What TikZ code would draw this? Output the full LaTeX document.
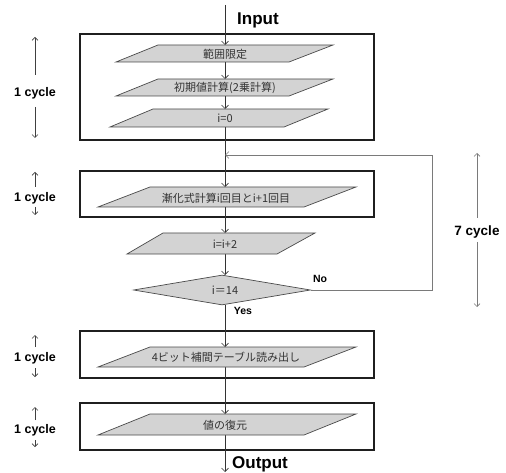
\documentclass[tikz,border=0pt]{standalone}
\usepackage{fontspec}
\setmainfont{Liberation Sans}
\newfontfamily\cjk{Noto Sans CJK JP}
\usetikzlibrary{arrows.meta,shapes.geometric}
\definecolor{paraFill}{HTML}{D3D3D3}
\definecolor{paraLine}{HTML}{4A4A4A}
\definecolor{txtGray}{HTML}{333333}
\definecolor{fbGray}{HTML}{7A7A7A}
\tikzset{
  cyclebox/.style={draw=black!88, line width=2.6pt, fill=white},
  parabox/.style={draw=paraLine, line width=0.7pt, fill=paraFill},
  ptext/.style={font=\cjk\fontsize{11}{13}\selectfont, text=txtGray, inner sep=0pt},
  flow/.style={draw=black!80, line width=0.7pt},
  tip/.style={-{Straight Barb[length=3.5pt,width=7pt,line width=0.6pt]}},
  fb/.style={draw=fbGray, line width=0.9pt},
  bigl/.style={font=\bfseries\fontsize{17}{19}\selectfont, inner sep=0pt},
  cyc/.style={font=\bfseries\fontsize{12.5}{14}\selectfont, inner sep=0pt},
  yn/.style={font=\bfseries\fontsize{10.5}{12}\selectfont, inner sep=0pt},
  dec/.style={shape=diamond, draw=paraLine, line width=0.7pt, fill=paraFill, minimum width=177pt, minimum height=30pt, inner sep=0pt},
  cycarr/.style={draw=black!75, line width=0.6pt, -{Straight Barb[length=3pt,width=6pt,line width=0.6pt]}}
}
\begin{document}
\begin{tikzpicture}[x=1pt,y=-1pt]
\useasboundingbox (0,0) rectangle (506,473);
% cycle boxes
\draw[cyclebox] (80,34) rectangle (374,140);
\draw[cyclebox] (80,171) rectangle (374,217);
\draw[cyclebox] (80,331) rectangle (374,378);
\draw[cyclebox] (80,403) rectangle (374,450);
% coordinates on the main line
\coordinate (in) at (225,5);
\coordinate (p1t) at (225,45);
\coordinate (p2t) at (225,79);
\coordinate (p3t) at (225,109);
\coordinate (p4t) at (225,187);
\coordinate (p5t) at (225,233);
\coordinate (dt) at (225,275);
\coordinate (db) at (225,305);
\coordinate (p6t) at (225,347);
\coordinate (p7t) at (225,414);
\coordinate (out) at (225,472);
\coordinate (join) at (225,155);
\coordinate (fbr) at (432,290);
\coordinate (fbt) at (432,155);
% main flow (behind the shapes)
\draw[flow,tip] (in) -- (p1t);
\draw[flow,tip] (p1t) -- (p2t);
\draw[flow,tip] (p2t) -- (p3t);
\draw[flow,tip] (p3t) -- (p4t);
\draw[flow,tip] (p4t) -- (p5t);
\draw[flow,tip] (p5t) -- (dt);
\draw[flow,tip] (db) -- (p6t);
\draw[flow,tip] (p6t) -- (p7t);
\draw[flow,tip] (p7t) -- (out);
% parallelograms
\draw[parabox] (158,45) -- (333,45) -- (289,62) -- (116,62) -- cycle;
\draw[parabox] (158,79) -- (333,79) -- (289,96) -- (116,96) -- cycle;
\draw[parabox] (153,109) -- (328,109) -- (284,127) -- (110,127) -- cycle;
\draw[parabox] (150,187) -- (356,187) -- (304,207) -- (98,207) -- cycle;
\draw[parabox] (163,233) -- (315,233) -- (277,254) -- (127,254) -- cycle;
\draw[parabox] (150,347) -- (356,347) -- (304,367) -- (98,367) -- cycle;
\draw[parabox] (150,414) -- (356,414) -- (304,435) -- (98,435) -- cycle;
% decision
\node[dec] (d) at (222,290) {};
% feedback
\draw[fb,-{Straight Barb[length=3.5pt,width=7pt,line width=0.6pt]}] (d.east) -- (fbr) -- (fbt) -- (join);
% texts
\node[ptext] (t1) at (225,54) {範囲限定};
\node[ptext] (t2) at (225,88) {初期値計算(2乗計算)};
\node[ptext] (t3) at (225,118) {i=0};
\node[ptext] (t4) at (226,198) {漸化式計算i回目とi+1回目};
\node[ptext] (t5) at (225,244) {i=i+2};
\node[ptext] (t6) at (225,290) {i＝14};
\node[ptext] (t7) at (226,357) {4ビット補間テーブル読み出し};
\node[ptext] (t8) at (225,425) {値の復元};
\node[bigl] (inl) at (258,20) {Input};
\node[bigl] (outl) at (260,464) {Output};
\node[yn] (no) at (320,279) {No};
\node[yn] (yes) at (243,311) {Yes};
% cycle labels
\node[cyc] (c1) at (35,93) {1 cycle};
\node[cyc] (c2) at (35,198) {1 cycle};
\node[cyc] (c3) at (35,358) {1 cycle};
\node[cyc] (c4) at (35,430) {1 cycle};
\node[cyc,font=\bfseries\fontsize{13.5}{15}\selectfont] (c7) at (477,232) {7 cycle};
\coordinate (c1a) at (35,75);  \coordinate (c1u) at (35,37);
\coordinate (c1b) at (35,107); \coordinate (c1d) at (35,138);
\coordinate (c2a) at (35,187); \coordinate (c2u) at (35,172);
\coordinate (c2b) at (35,207); \coordinate (c2d) at (35,215);
\coordinate (c3a) at (35,347); \coordinate (c3u) at (35,335);
\coordinate (c3b) at (35,368); \coordinate (c3d) at (35,377);
\coordinate (c4a) at (35,420); \coordinate (c4u) at (35,407);
\coordinate (c4b) at (35,440); \coordinate (c4d) at (35,447);
\coordinate (c7a) at (477,218); \coordinate (c7u) at (477,153);
\coordinate (c7b) at (477,242); \coordinate (c7d) at (477,307);
\draw[cycarr] (c1a) -- (c1u);
\draw[cycarr] (c1b) -- (c1d);
\draw[cycarr] (c2a) -- (c2u);
\draw[cycarr] (c2b) -- (c2d);
\draw[cycarr] (c3a) -- (c3u);
\draw[cycarr] (c3b) -- (c3d);
\draw[cycarr] (c4a) -- (c4u);
\draw[cycarr] (c4b) -- (c4d);
\draw[cycarr,draw=fbGray] (c7a) -- (c7u);
\draw[cycarr,draw=fbGray] (c7b) -- (c7d);
\end{tikzpicture}
\end{document}
